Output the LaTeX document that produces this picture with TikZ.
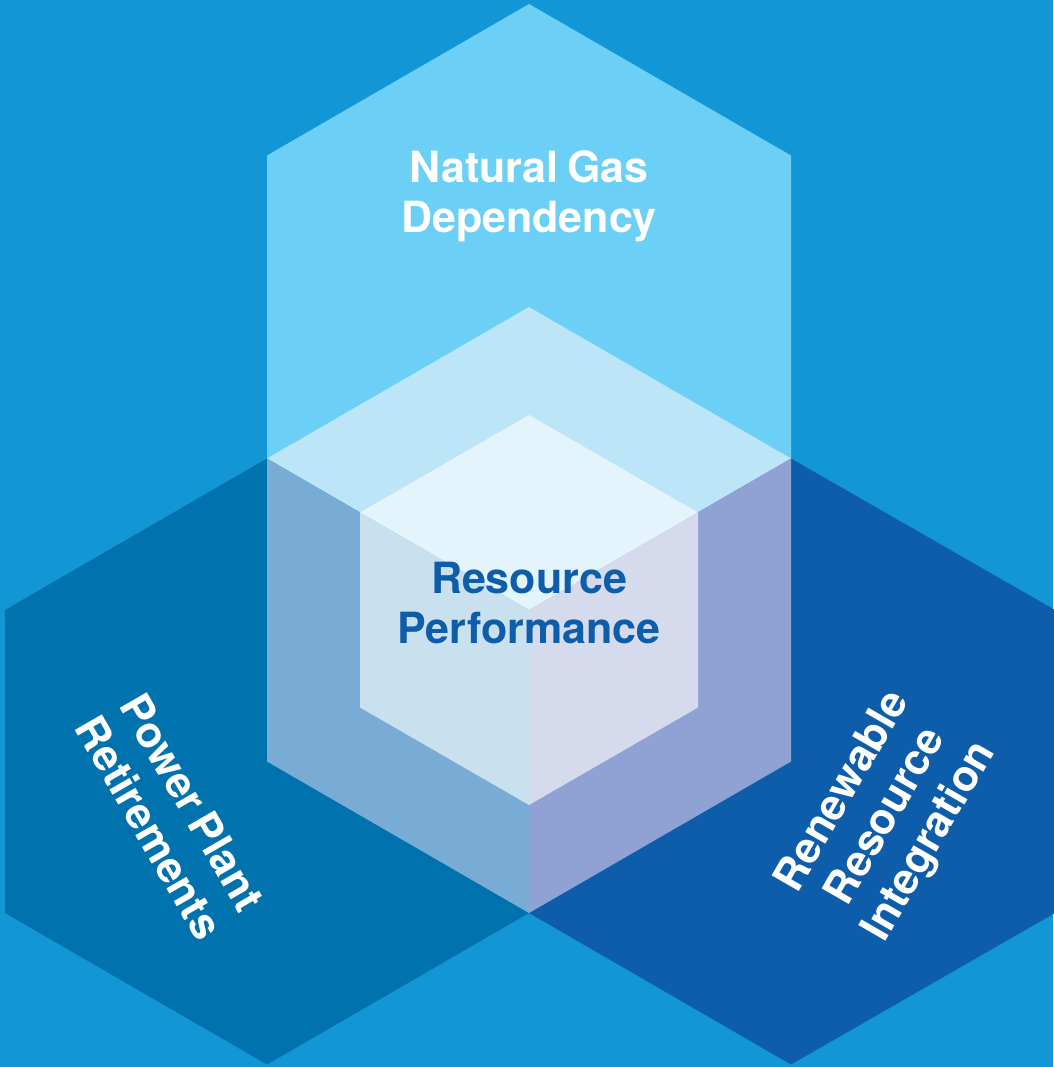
\documentclass[tikz,border=0pt]{standalone}
\usepackage{fontspec}
\setmainfont{TeX Gyre Heros}[WordSpace=0.7]
\definecolor{bgblue}{HTML}{1296D6}
\definecolor{tophex}{HTML}{6BCFF6}
\definecolor{lefthex}{HTML}{0072AD}
\definecolor{righthex}{HTML}{0E5DAA}
\definecolor{toprh}{HTML}{BCE5F8}
\definecolor{leftrh}{HTML}{78ACD5}
\definecolor{rightrh}{HTML}{8FA2D3}
\definecolor{cubetop}{HTML}{E3F4FC}
\definecolor{cubeleft}{HTML}{C9E0EF}
\definecolor{cuberight}{HTML}{D5DAED}
\definecolor{darktext}{HTML}{0E5DAA}
\tikzset{
  lbl/.style={font=\bfseries\fontsize{43}{50}\selectfont, align=center, inner sep=0pt, text=white},
  darklbl/.style={lbl, text=darktext}
}
\begin{document}
\begin{tikzpicture}[x=1pt,y=-1pt]
\fill[bgblue] (0,0) rectangle (1053,1067);
\useasboundingbox (0,0) rectangle (1053,1067);
% key points
\coordinate (C) at (529,610);
\coordinate (T0) at (529,4);
\coordinate (TL) at (267,155.5);
\coordinate (TR) at (791,155.5);
\coordinate (ML) at (267,458.5);
\coordinate (MR) at (791,458.5);
\coordinate (CT) at (529,307);
\coordinate (LL) at (267,761.5);
\coordinate (LR) at (791,761.5);
\coordinate (CB) at (529,913);
\coordinate (FL) at (5,610);
\coordinate (FLB) at (5,913);
\coordinate (FR) at (1055,610);
\coordinate (FRB) at (1055,913);
\coordinate (BL) at (267,1064.5);
\coordinate (BR) at (791,1064.5);
% inner cube
\coordinate (IT) at (529,415);
\coordinate (IUL) at (360,512.5);
\coordinate (IUR) at (698,512.5);
\coordinate (ILL) at (360,707.5);
\coordinate (ILR) at (698,707.5);
\coordinate (IB) at (529,805);
% hexagons
\fill[tophex] (T0) -- (TR) -- (MR) -- (C) -- (ML) -- (TL) -- cycle;
\fill[lefthex] (ML) -- (C) -- (CB) -- (BL) -- (FLB) -- (FL) -- cycle;
\fill[righthex] (MR) -- (FR) -- (FRB) -- (BR) -- (CB) -- (C) -- cycle;
% overlaps
\fill[toprh] (CT) -- (MR) -- (C) -- (ML) -- cycle;
\fill[leftrh] (ML) -- (C) -- (CB) -- (LL) -- cycle;
\fill[rightrh] (MR) -- (LR) -- (CB) -- (C) -- cycle;
% cube
\fill[cubetop] (IT) -- (IUR) -- (C) -- (IUL) -- cycle;
\fill[cubeleft] (IUL) -- (C) -- (IB) -- (ILL) -- cycle;
\fill[cuberight] (IUR) -- (ILR) -- (IB) -- (C) -- cycle;
% labels
\node[lbl] (gas) at (529,196) {Natural Gas\\Dependency};
\node[darklbl] (perf) at (529,603) {Resource\\Performance};
\node[lbl, rotate=-60] (ret) at (171,815) {Power Plant\\Retirements};
\node[lbl, rotate=60] (ren) at (887,817) {Renewable\\Resource\\Integration};
\end{tikzpicture}
\end{document}
